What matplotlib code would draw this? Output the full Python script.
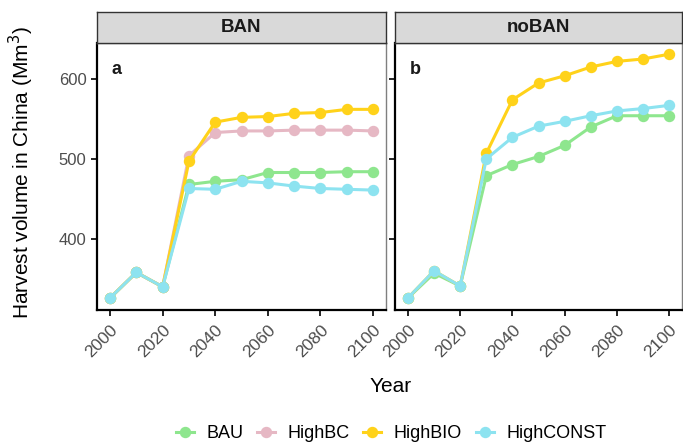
import matplotlib
matplotlib.use("Agg")
import matplotlib.pyplot as plt
from matplotlib.lines import Line2D

plt.rcParams['font.family'] = ['Liberation Sans', 'DejaVu Sans']

years = [2000, 2010, 2020, 2030, 2040, 2050, 2060, 2070, 2080, 2090, 2100]

ban_bau = [326, 358, 340, 468, 472, 474, 483, 483, 483, 484, 484]
ban_highbc = [326, 358, 340, 504, 533, 535, 535, 536, 536, 536, 535]
ban_highbio = [326, 358, 340, 497, 546, 552, 553, 557, 558, 562, 562]
ban_highconst = [326, 358, 340, 463, 462, 472, 470, 466, 463, 462, 461]

noban_bau = [326, 357, 341, 479, 493, 503, 517, 540, 554, 554, 554]
noban_highbio = [326, 360, 341, 507, 574, 595, 604, 615, 622, 625, 631]
noban_highconst = [326, 360, 341, 500, 527, 541, 547, 554, 560, 563, 567]

series_names = ["BAU", "HighBC", "HighBIO", "HighCONST"]
colors = {"BAU": "#8EE68E", "HighBC": "#E6B8C4", "HighBIO": "#FFD21A", "HighCONST": "#8DE3F0"}

panels = [
    ("BAN", "a", {"BAU": ban_bau, "HighBC": ban_highbc, "HighBIO": ban_highbio, "HighCONST": ban_highconst}),
    ("noBAN", "b", {"BAU": noban_bau, "HighBIO": noban_highbio, "HighCONST": noban_highconst}),
]

W, H = 683, 447
fig = plt.figure(figsize=(W / 100, H / 100), dpi=100)

def fx(px):
    return px / W

def fy(py):
    return 1 - py / H

ax_boxes = [(97, 386), (395, 682)]
top_px, bot_px = 43, 310
strip_top = 12

for (x0, x1), (title, letter, data) in zip(ax_boxes, panels):
    ax = fig.add_axes([fx(x0), fy(bot_px), fx(x1 - x0), (bot_px - top_px) / H])
    for name in series_names:
        if name in data:
            ax.plot(years, data[name], color=colors[name], lw=2.2, marker="o",
                    markersize=7.2, zorder=3)
    ax.set_xlim(1995.05, 2104.9)
    ax.set_ylim(311, 645)
    ax.set_xticks([2000, 2020, 2040, 2060, 2080, 2100])
    ax.set_yticks([400, 500, 600])
    ax.tick_params(axis="x", labelrotation=45, labelsize=12.5, colors="black",
                   labelcolor="#4D4D4D", length=4, width=1.2, pad=5)
    ax.tick_params(axis="y", labelsize=12, labelcolor="#4D4D4D", length=4, width=1.2)
    for lbl in ax.get_xticklabels():
        lbl.set_ha("right")
        lbl.set_va("top")
        lbl.set_rotation_mode("anchor")
    if letter == "b":
        ax.set_yticklabels([])
    for s in ["top", "right"]:
        ax.spines[s].set_color("#7F7F7F")
        ax.spines[s].set_linewidth(1.0)
    for s in ["left", "bottom"]:
        ax.spines[s].set_color("black")
        ax.spines[s].set_linewidth(1.6)
    ax.text(0.05, 0.9, letter, transform=ax.transAxes, fontsize=13,
            fontweight="bold", color="#1A1A1A", va="center", ha="left")
    sax = fig.add_axes([fx(x0), fy(top_px), fx(x1 - x0), (top_px - strip_top) / H])
    sax.set_xticks([]); sax.set_yticks([])
    sax.set_facecolor("#D9D9D9")
    for s in sax.spines.values():
        s.set_color("#333333")
        s.set_linewidth(1.0)
    sax.text(0.5, 0.5, title, transform=sax.transAxes, ha="center", va="center",
             fontsize=13.5, fontweight="bold", color="#1A1A1A")

fig.text(fx(21), fy(173), "Harvest volume in China (Mm$^3$)", rotation=90,
         ha="center", va="center", fontsize=15)
fig.text(fx(391), fy(386), "Year", ha="center", va="center", fontsize=15)

handles = [Line2D([0], [0], color=colors[n], lw=2.2, marker="o", markersize=7.2)
           for n in series_names]
fig.legend(handles, series_names, loc="center", bbox_to_anchor=(fx(391), fy(434)),
           ncol=4, frameon=False, fontsize=13, handlelength=1.0, columnspacing=0.75,
           handletextpad=0.7)

fig.savefig("out.png", dpi=100)
